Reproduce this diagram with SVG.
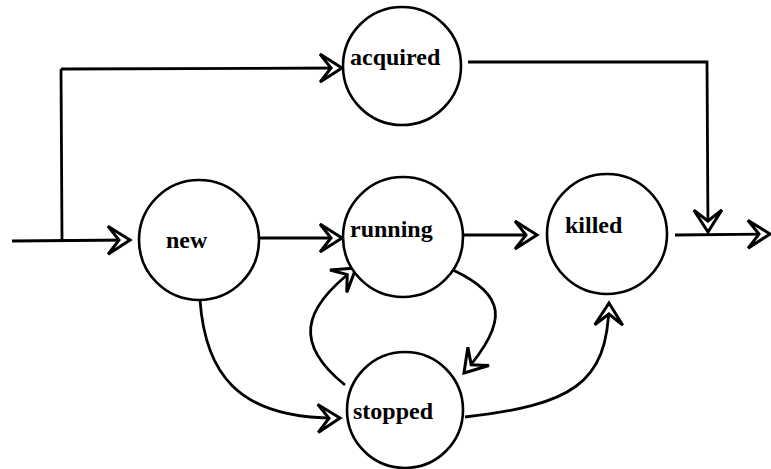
<svg xmlns="http://www.w3.org/2000/svg" width="771" height="469" viewBox="0 0 771 469">
<defs>
<marker id="dart" markerUnits="userSpaceOnUse" markerWidth="32" markerHeight="32" viewBox="-26 -16 30 32" refX="0" refY="0" orient="auto" overflow="visible">
<path d="M0,0 L-22,-14 L-11,0 L-22,14 Z" fill="#fff" stroke="#000" stroke-width="3" stroke-linejoin="miter"/>
</marker>
<style>
.node circle{fill:#fff;stroke:#000;stroke-width:2.6}
.node text{font-family:"Liberation Serif","Times New Roman",serif;font-weight:bold;font-size:24px;fill:#000}
.edge{fill:none;stroke:#000;stroke-width:2.8}
.arr{marker-end:url(#dart)}
</style>
</defs>
<rect width="771" height="469" fill="#fff"/>
<g id="connectors">
<path class="edge arr" d="M12,241 L130,240"/>
<path class="edge" d="M62,241 L61,69"/>
<path class="edge arr" d="M61,69 L342,68"/>
<path class="edge arr" d="M468,62 L707,62 L708,232"/>
<path class="edge arr" d="M675,235 L770,234"/>
<path class="edge arr" d="M259,238 L342,238"/>
<path class="edge arr" d="M462,235 L537,235"/>
<path class="edge arr" d="M200,300 C205,370 235,420 340,418"/>
<path class="edge arr" d="M345,385 C295,345 300,310 356,268"/>
<path class="edge arr" d="M453,270 C505,295 510,320 464,373"/>
<path class="edge arr" d="M465,417 C570,405 608,385 609,303"/>
</g>
<g id="acquired" class="node"><circle cx="402" cy="66" r="59"/><text x="350" y="65">acquired</text></g>
<g id="new" class="node"><circle cx="199" cy="240" r="60"/><text x="166" y="248">new</text></g>
<g id="running" class="node"><circle cx="403" cy="237" r="60"/><text x="350" y="237">running</text></g>
<g id="killed" class="node"><circle cx="607" cy="234" r="60"/><text x="565" y="233">killed</text></g>
<g id="stopped" class="node"><circle cx="405" cy="410" r="58"/><text x="353" y="419">stopped</text></g>
</svg>
